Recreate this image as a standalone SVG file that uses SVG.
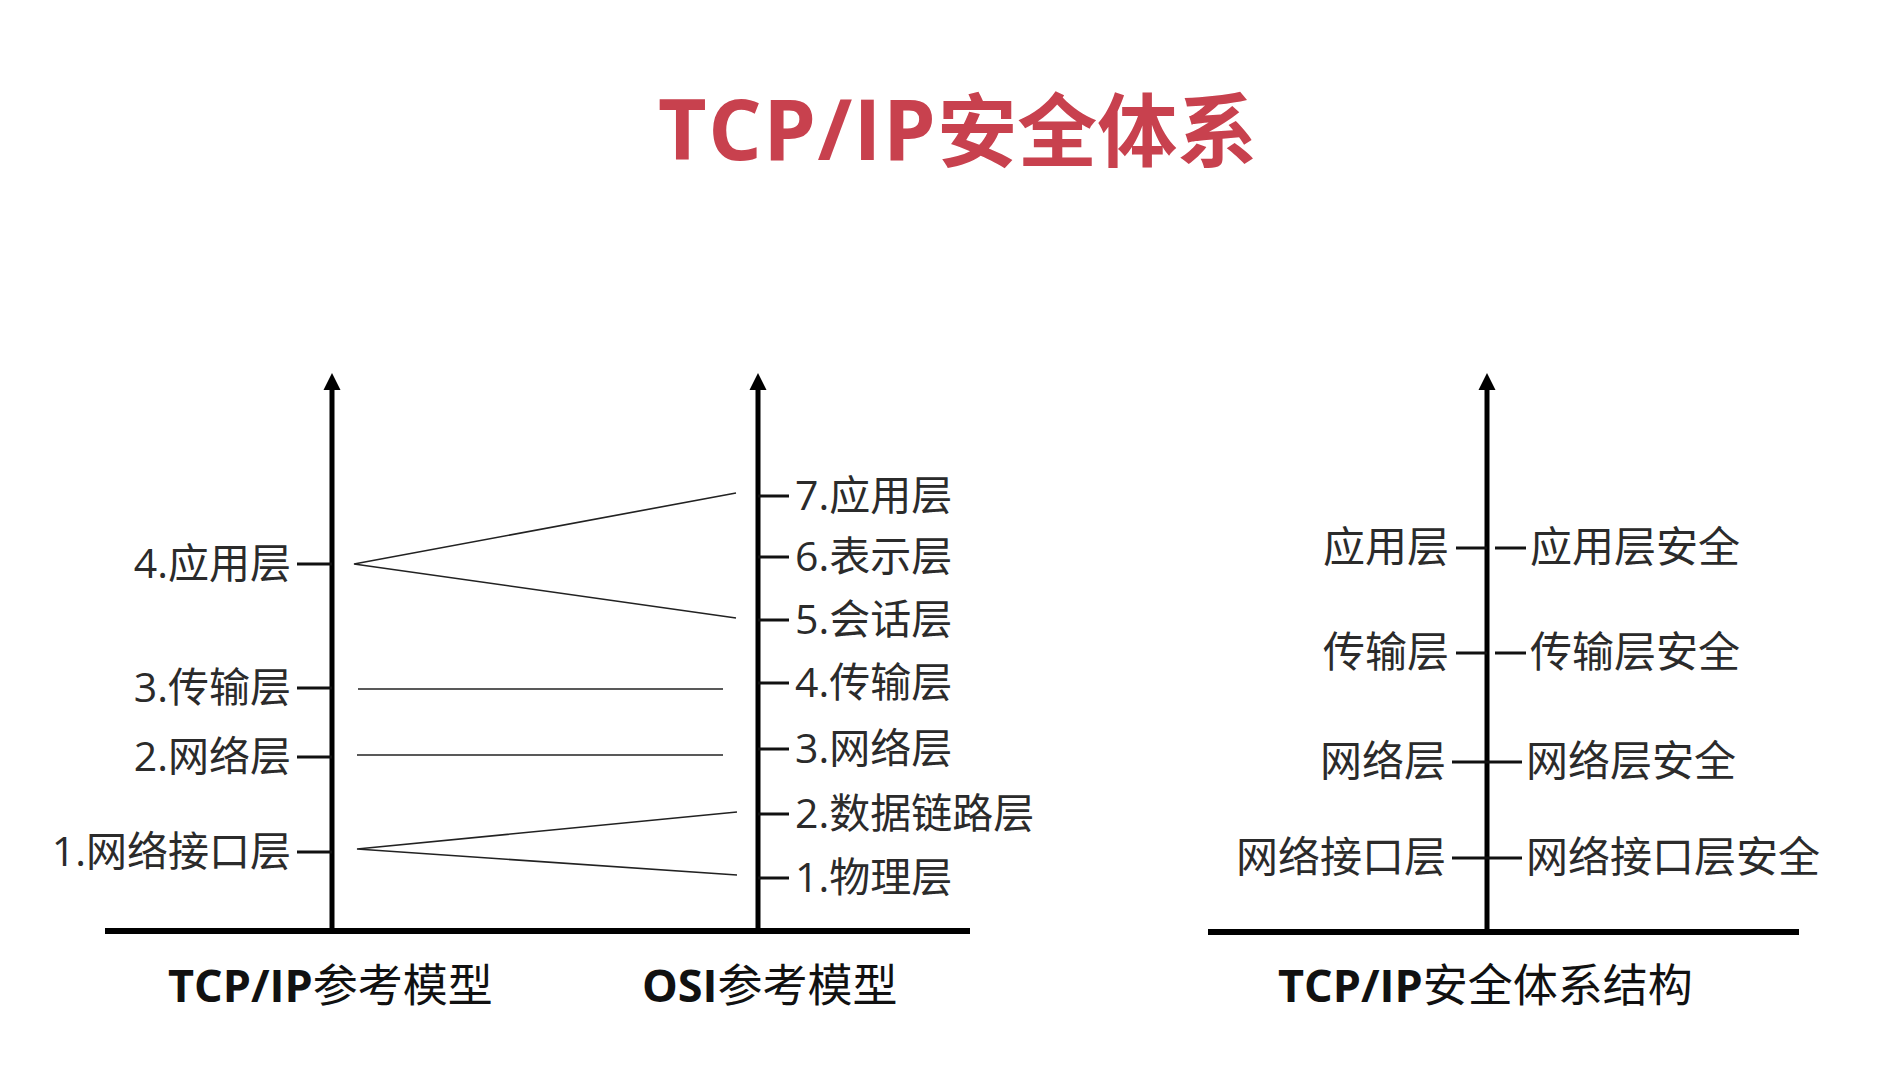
<svg xmlns="http://www.w3.org/2000/svg" width="1900" height="1073" viewBox="0 0 1900 1073">
  <defs>
    <path id="arrowHead" d="M0,0 L-8.5,17 L8.5,17 Z" fill="#000"/>
    <style>
      .title { font-family: "Open Sans", "Noto Sans CJK SC", sans-serif; font-weight: 700; fill: #C8414E; }
      .lbl { font-family: "Open Sans", "Noto Sans CJK SC", sans-serif; font-size: 41px; fill: #2b2b2b; }
      .lblR { font-family: "Noto Sans CJK SC", sans-serif; font-size: 42px; fill: #2b2b2b; }
      .cap { font-family: "Open Sans", "Noto Sans CJK SC", sans-serif; font-size: 45px; fill: #111; }
      .cap .b { font-weight: 700; }
      .axis { stroke: #000; stroke-width: 5; fill: none; }
      .base { stroke: #000; stroke-width: 6; fill: none; }
      .tick { stroke: #111; stroke-width: 3; fill: none; }
      .link { stroke: #222; stroke-width: 1.6; fill: none; }
    </style>
  </defs>

  <rect width="1900" height="1073" fill="#ffffff"/>

  <!-- heading -->
  <g id="title">
    <text class="title" x="658" y="160"><tspan font-size="84" letter-spacing="1.5">TCP/IP</tspan><tspan font-family="Noto Sans CJK SC, sans-serif" font-size="80">安全体系</tspan></text>
  </g>

  <!-- axes and base lines -->
  <g id="axes">
    <line class="base" x1="105" y1="931" x2="970" y2="931"/>
    <line class="base" x1="1208" y1="932" x2="1799" y2="932"/>
    <line class="axis" x1="332" y1="931" x2="332" y2="386"/>
    <line class="axis" x1="758" y1="931" x2="758" y2="386"/>
    <line class="axis" x1="1487" y1="932" x2="1487" y2="386"/>
    <use href="#arrowHead" x="332" y="373"/>
    <use href="#arrowHead" x="758" y="373"/>
    <use href="#arrowHead" x="1487" y="373"/>
  </g>

  <!-- TCP/IP reference model layers -->
  <g id="tcpip-layers">
    <line class="tick" x1="297" y1="564" x2="332" y2="564"/>
    <line class="tick" x1="297" y1="688" x2="332" y2="688"/>
    <line class="tick" x1="297" y1="757" x2="332" y2="757"/>
    <line class="tick" x1="297" y1="852" x2="332" y2="852"/>
    <text class="lbl" text-anchor="end" x="291" y="578">4.应用层</text>
    <text class="lbl" text-anchor="end" x="291" y="702">3.传输层</text>
    <text class="lbl" text-anchor="end" x="291" y="771">2.网络层</text>
    <text class="lbl" text-anchor="end" x="291" y="866">1.网络接口层</text>
  </g>

  <!-- OSI reference model layers -->
  <g id="osi-layers">
    <line class="tick" x1="758" y1="496" x2="789" y2="496"/>
    <line class="tick" x1="758" y1="557" x2="789" y2="557"/>
    <line class="tick" x1="758" y1="620" x2="789" y2="620"/>
    <line class="tick" x1="758" y1="683" x2="789" y2="683"/>
    <line class="tick" x1="758" y1="749" x2="789" y2="749"/>
    <line class="tick" x1="758" y1="814" x2="789" y2="814"/>
    <line class="tick" x1="758" y1="878" x2="789" y2="878"/>
    <text class="lbl" x="795" y="510">7.应用层</text>
    <text class="lbl" x="795" y="571">6.表示层</text>
    <text class="lbl" x="795" y="634">5.会话层</text>
    <text class="lbl" x="795" y="697">4.传输层</text>
    <text class="lbl" x="795" y="763">3.网络层</text>
    <text class="lbl" x="795" y="828">2.数据链路层</text>
    <text class="lbl" x="795" y="892">1.物理层</text>
  </g>

  <!-- security architecture layers -->
  <g id="security-layers">
    <line class="tick" x1="1456" y1="548" x2="1487" y2="548"/>
    <line class="tick" x1="1495" y1="548" x2="1526" y2="548"/>
    <line class="tick" x1="1456" y1="653" x2="1487" y2="653"/>
    <line class="tick" x1="1495" y1="653" x2="1526" y2="653"/>
    <line class="tick" x1="1452" y1="762" x2="1487" y2="762"/>
    <line class="tick" x1="1487" y1="762" x2="1522" y2="762"/>
    <line class="tick" x1="1452" y1="858" x2="1487" y2="858"/>
    <line class="tick" x1="1487" y1="858" x2="1522" y2="858"/>
    <text class="lblR" text-anchor="end" x="1449" y="562">应用层</text>
    <text class="lblR" text-anchor="end" x="1449" y="667">传输层</text>
    <text class="lblR" text-anchor="end" x="1446" y="776">网络层</text>
    <text class="lblR" text-anchor="end" x="1446" y="872">网络接口层</text>
    <text class="lblR" x="1530" y="562">应用层安全</text>
    <text class="lblR" x="1530" y="667">传输层安全</text>
    <text class="lblR" x="1526" y="776">网络层安全</text>
    <text class="lblR" x="1526" y="872">网络接口层安全</text>
  </g>

  <!-- mapping between the two models -->
  <g id="connectors">
    <polyline class="link" points="736,493 354,564 736,618"/>
    <line class="link" x1="358" y1="689" x2="723" y2="689"/>
    <line class="link" x1="357" y1="755" x2="723" y2="755"/>
    <polyline class="link" points="737,812 357,849 737,875"/>
  </g>

  <!-- captions -->
  <g id="captions">
    <text class="cap" x="168" y="1002"><tspan class="b">TCP/IP</tspan>参考模型</text>
    <text class="cap" x="642" y="1002"><tspan class="b">OSI</tspan>参考模型</text>
    <text class="cap" x="1278" y="1002"><tspan class="b">TCP/IP</tspan>安全体系结构</text>
  </g>
</svg>
